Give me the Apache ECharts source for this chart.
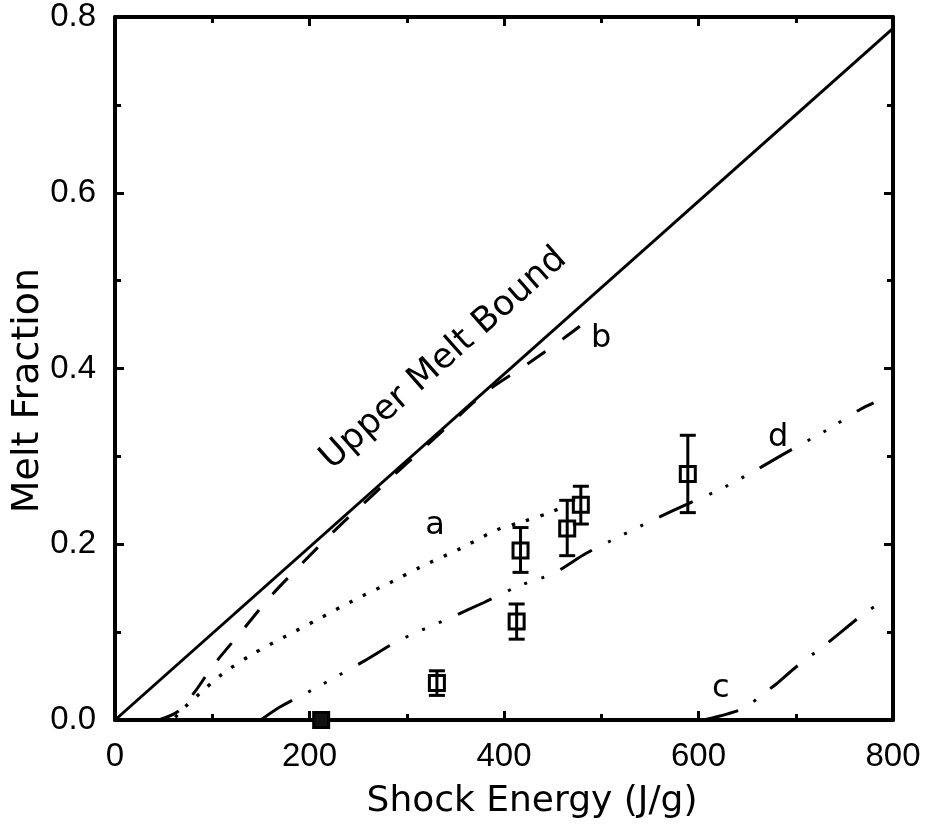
<!DOCTYPE html>
<html>
<head>
<meta charset="utf-8">
<script src="https://cdn.jsdelivr.net/npm/echarts@6/dist/echarts.min.js"></script>
<style>
  html, body { margin: 0; padding: 0; background: #fff; }
  #chart { width: 925px; height: 828px; }
</style>
</head>
<body>
<div id="chart"></div>
<script>
// ---- axis ----
const xMin = 0, xMax = 800, xStep = 200;
const yMin = 0, yMax = 0.8, yStep = 0.2;
const xTitle = 'Shock Energy (J/g)';
const yTitle = 'Melt Fraction';

// ---- upper melt bound (solid) ----
const upperX = [0, 800];
const upperY = [0, 0.787];

// ---- curve a (dotted) ----
const aX = [62, 72, 86, 110, 140, 175, 206, 245, 286, 314, 355, 392, 420, 447, 465];
const aY = [0.003, 0.015, 0.029, 0.052, 0.074, 0.095, 0.113, 0.136, 0.158, 0.174, 0.195, 0.216, 0.226, 0.236, 0.245];

// ---- curve b (dashed) ----
const bX = [45, 65, 82, 101, 131, 161, 194, 229, 265, 300, 340, 380, 424, 461, 478];
const bY = [0.0, 0.01, 0.032, 0.062, 0.102, 0.142, 0.18, 0.219, 0.256, 0.292, 0.332, 0.372, 0.405, 0.434, 0.448];

// ---- curve c (dash-dot) ----
const cX = [605, 630, 650, 662, 680, 700, 732, 770, 785];
const cY = [0.0, 0.007, 0.015, 0.026, 0.041, 0.06, 0.087, 0.121, 0.132];

// ---- curve d (dash-dot-dot) ----
const dX = [150, 170, 204, 256, 293, 344, 380, 414, 451, 485, 519, 554, 589, 625, 660, 696, 732, 767, 780];
const dY = [0.0, 0.015, 0.035, 0.067, 0.091, 0.116, 0.134, 0.152, 0.167, 0.19, 0.209, 0.228, 0.246, 0.264, 0.285, 0.308, 0.33, 0.354, 0.361];

// ---- measured points with error bars ----
const ptX = [212, 331, 413, 417, 465, 479, 589];
const ptY = [0.0, 0.042, 0.112, 0.193, 0.218, 0.245, 0.280];
const ptLo = [0.0, 0.028, 0.092, 0.168, 0.187, 0.223, 0.236];
const ptHi = [0.0, 0.056, 0.132, 0.219, 0.250, 0.266, 0.324];

// ---- annotations ----
const curveLabels = ['a', 'b', 'c', 'd'];
const curveLabelX = [329, 500, 623, 682];
const curveLabelY = [0.221, 0.434, 0.036, 0.321];
const boundLabel = 'Upper Melt Bound';
const boundLabelX = [338];
const boundLabelY = [0.411];

const zip = (xs, ys) => xs.map((x, i) => [x, ys[i]]);
const FONT = 'DejaVu Sans';
const TICKFONT = 'Liberation Sans';

const chart = echarts.init(document.getElementById('chart'), null, { renderer: 'canvas' });

const axisCommon = {
  type: 'value',
  axisLine: { show: true, onZero: false, lineStyle: { color: '#000', width: 4 } },
  axisTick: { show: true, inside: true, length: 9, lineStyle: { color: '#000', width: 3 } },
  minorTick: { show: true, splitNumber: 2, length: 6, lineStyle: { color: '#000', width: 3 } },
  splitLine: { show: false },
};

function renderErr(params, api) {
  const x = api.value(0), lo = api.value(1), hi = api.value(2);
  if (hi === lo) return null;
  const t = api.coord([x, hi]);
  const b = api.coord([x, lo]);
  const hw = 8;
  const st = { stroke: '#000', lineWidth: 3 };
  return {
    type: 'group',
    children: [
      { type: 'line', shape: { x1: t[0], y1: t[1], x2: b[0], y2: b[1] }, style: st },
      { type: 'line', shape: { x1: t[0] - hw, y1: t[1], x2: t[0] + hw, y2: t[1] }, style: st },
      { type: 'line', shape: { x1: b[0] - hw, y1: b[1], x2: b[0] + hw, y2: b[1] }, style: st }
    ]
  };
}

const option = {
  backgroundColor: '#fff',
  animation: false,
  grid: { left: 115, right: 32, top: 17, bottom: 108, containLabel: false, outerBoundsMode: 'none' },
  xAxis: [
    Object.assign({}, axisCommon, {
      min: xMin, max: xMax, interval: xStep, position: 'bottom',
      name: xTitle, nameLocation: 'middle', nameGap: 64,
      nameTextStyle: { fontFamily: FONT, fontSize: 36, color: '#000', padding: [0, 0, 0, 56] },
      axisLabel: { show: true, margin: 20, fontFamily: TICKFONT, fontSize: 33, color: '#000' }
    }),
    Object.assign({}, axisCommon, {
      min: xMin, max: xMax, interval: xStep, position: 'top',
      axisLabel: { show: false }
    })
  ],
  yAxis: [
    Object.assign({}, axisCommon, {
      min: yMin, max: yMax, interval: yStep, position: 'left',
      name: yTitle, nameLocation: 'middle', nameGap: 68, nameRotate: 90, nameMoveOverlap: false,
      nameTextStyle: { fontFamily: FONT, fontSize: 38, color: '#000', padding: [0, 44, 0, 0] },
      axisLabel: { show: true, margin: 19, fontFamily: TICKFONT, fontSize: 33, color: '#000',
        formatter: v => v.toFixed(1) }
    }),
    Object.assign({}, axisCommon, {
      min: yMin, max: yMax, interval: yStep, position: 'right',
      axisLabel: { show: false }
    })
  ],
  series: [
    {
      type: 'line', name: 'upper', data: zip(upperX, upperY), symbol: 'none',
      lineStyle: { color: '#000', width: 3, type: 'solid' }, z: 3
    },
    {
      type: 'line', name: 'a', data: zip(aX, aY), symbol: 'none', smooth: 0.3,
      lineStyle: { color: '#000', width: 3.4, type: [3.4, 11.6] }, z: 3
    },
    {
      type: 'line', name: 'b', data: zip(bX, bY), symbol: 'none', smooth: 0.3,
      lineStyle: { color: '#000', width: 3, type: [22, 21] }, z: 3
    },
    {
      type: 'line', name: 'c', data: zip(cX, cY), symbol: 'none', smooth: 0.3,
      lineStyle: { color: '#000', width: 3, type: [36, 18, 3, 18] }, z: 3
    },
    {
      type: 'line', name: 'd', data: zip(dX, dY), symbol: 'none', smooth: 0.3,
      lineStyle: { color: '#000', width: 3, type: [37, 18, 3, 15, 3, 15, 3, 18] }, z: 3
    },
    {
      type: 'custom', name: 'err', renderItem: renderErr,
      data: ptX.map((x, i) => [x, ptLo[i], ptHi[i]]), z: 4
    },
    {
      type: 'scatter', name: 'pts', symbol: 'rect', symbolSize: 15,
      data: ptX.map((x, i) => ({
        value: [x, ptY[i]],
        itemStyle: i === 0 ? { color: '#111', borderColor: '#000', borderWidth: 3, opacity: 1 } : undefined
      })),
      itemStyle: { color: 'rgba(255,255,255,0)', borderColor: '#000', borderWidth: 3, opacity: 1 }, z: 5
    },
    {
      type: 'scatter', name: 'labels', symbolSize: 0, silent: true,
      itemStyle: { opacity: 1 },
      data: curveLabels.map((t, i) => [curveLabelX[i], curveLabelY[i], t]),
      label: { show: true, position: 'inside', formatter: p => p.value[2], opacity: 1,
        fontFamily: FONT, fontSize: 32, color: '#000' }, z: 6
    },
    {
      type: 'scatter', name: 'boundLabel', symbolSize: 0, silent: true,
      itemStyle: { opacity: 1 },
      data: boundLabelX.map((x, i) => [x, boundLabelY[i], boundLabel]),
      label: { show: true, position: 'inside', formatter: p => p.value[2], rotate: 41.5, opacity: 1,
        fontFamily: FONT, fontSize: 35, color: '#000' }, z: 6
    }
  ]
};
chart.setOption(option);
</script>
</body>
</html>
